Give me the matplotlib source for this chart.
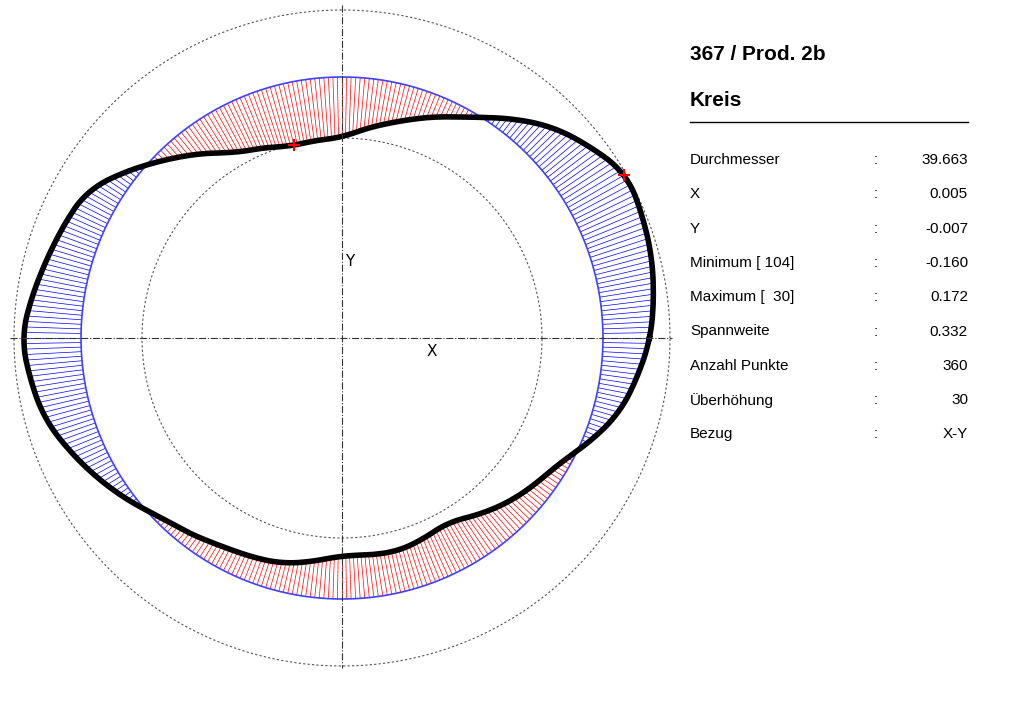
import numpy as np
import matplotlib.pyplot as plt

# profile radius (pixels) read every 15 degrees, counterclockwise from +X
angles_deg = np.arange(0, 360, 15)
profile_r = [308, 320, 328, 298, 254, 224, 200, 198, 213, 251, 294, 305,
             320, 308, 281, 254, 240, 233, 217, 220, 212, 233, 250, 287]
ref_r = 261          # fitted circle
inner_r, outer_r = 200, 328

labels = ["Durchmesser", "X", "Y", "Minimum [ 104]", "Maximum [  30]", "Spannweite",
          "Anzahl Punkte", "Überhöhung", "Bezug"]
values = ["39.663", "0.005", "-0.007", "-0.160", "0.172", "0.332", "360", "30", "X-Y"]

cx, cy = 342, 338
fig = plt.figure(figsize=(10.24, 7.02), dpi=100)
ax = fig.add_axes([0, 0, 1, 1])
ax.set_xlim(0, 1024)
ax.set_ylim(702, 0)
ax.axis('off')

# periodic smoothing of the read profile onto 1 degree steps
a = np.deg2rad(np.arange(0, 360, 1))
ext_a = np.deg2rad(np.concatenate([angles_deg - 360, angles_deg, angles_deg + 360]))
ext_r = np.tile(profile_r, 3)
r = np.interp(a, ext_a, ext_r)
r = np.convolve(np.concatenate([r[-4:], r, r[:4]]), np.ones(9) / 9, mode='valid')

# hatch lines between circle and profile
for ang, rr in zip(a, r):
    c, s = np.cos(ang), np.sin(ang)
    col = 'blue' if rr > ref_r else 'red'
    ax.plot([cx + ref_r * c, cx + rr * c], [cy - ref_r * s, cy - rr * s], color=col, lw=0.5)

t = np.linspace(0, 2 * np.pi, 400)
ax.plot(cx + ref_r * np.cos(t), cy - ref_r * np.sin(t), color='#4040ff', lw=1.2)
for rad in (inner_r, outer_r):
    ax.plot(cx + rad * np.cos(t), cy - rad * np.sin(t), color='#555555', lw=0.8, ls=(0, (2, 2)))

px = cx + r * np.cos(a)
py = cy - r * np.sin(a)
ax.plot(np.append(px, px[0]), np.append(py, py[0]), color='black', lw=4)

# min / max markers
for k in (104, 30):
    ax.plot(px[k], py[k], '+', color='red', ms=8, mew=1.5)

ax.plot([10, 672], [cy, cy], color='#333333', lw=0.8, ls='-.')
ax.plot([cx, cx], [5, 668], color='#333333', lw=0.8, ls='-.')
ax.text(350, 262, "Y", fontsize=11, ha='center', va='center')
ax.text(432, 352, "X", fontsize=11, ha='center', va='center')

fam = ['Liberation Sans', 'DejaVu Sans']
ax.text(690, 55, "367 / Prod. 2b", fontsize=15, fontweight='bold', family=fam, va='center')
ax.text(690, 100, "Kreis", fontsize=15, fontweight='bold', family=fam, va='center')
ax.plot([690, 968], [122, 122], color='black', lw=1)
for i, (lab, val) in enumerate(zip(labels, values)):
    y = 160 + i * 34.3
    ax.text(690, y, lab, fontsize=11, family=fam, va='center')
    ax.text(876, y, ":", fontsize=11, family=fam, va='center', ha='center')
    ax.text(968, y, val, fontsize=11, family=fam, va='center', ha='right')

fig.savefig("out.png", dpi=100)
